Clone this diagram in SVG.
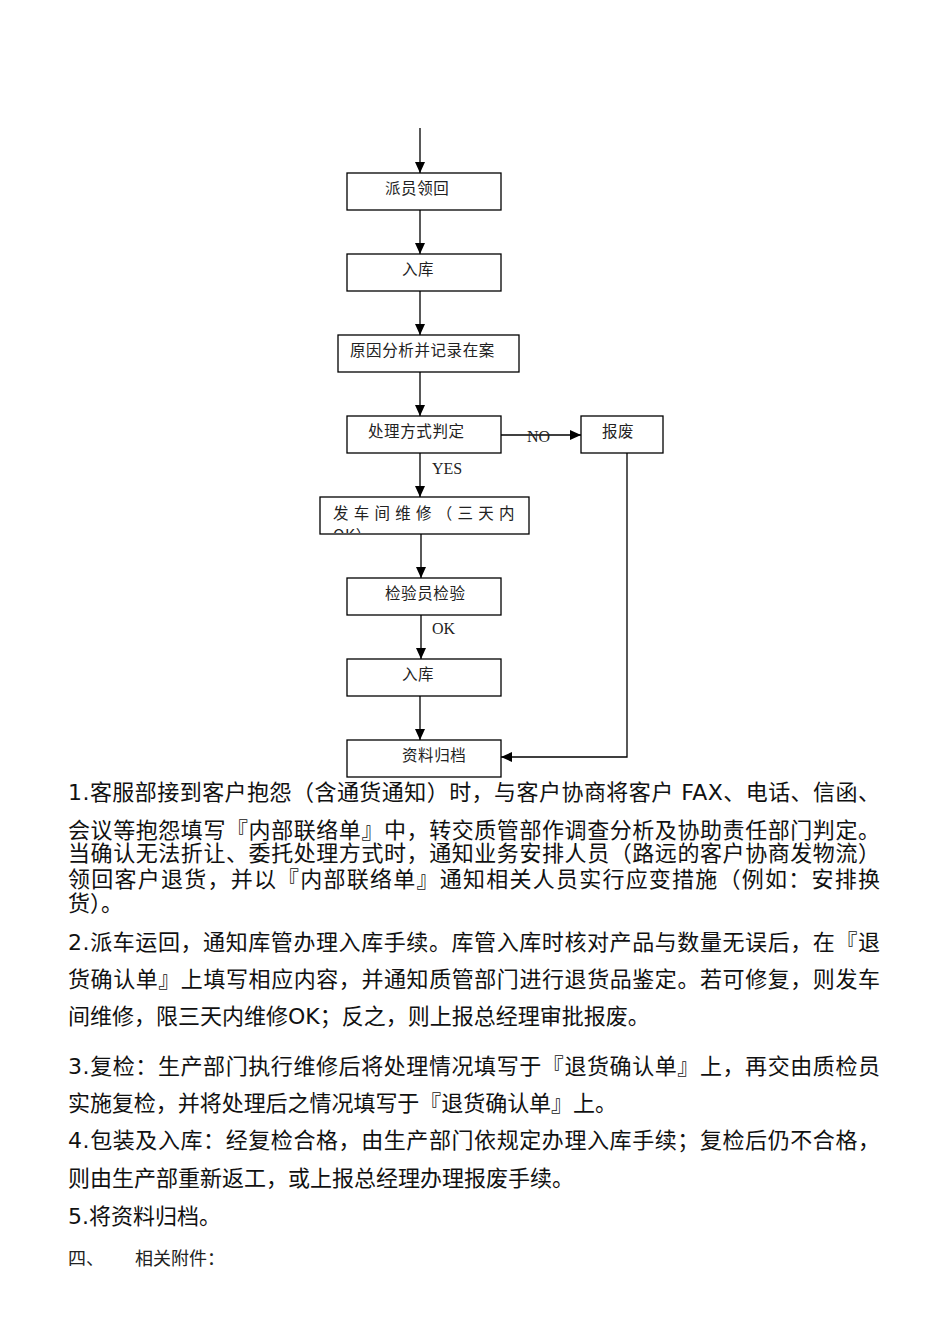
<svg xmlns="http://www.w3.org/2000/svg" width="950" height="1344" viewBox="0 0 950 1344">
<defs>
<style>
.box{fill:#fff;stroke:#000;stroke-width:1.3}
.bt{font-family:"Noto Sans CJK SC",sans-serif;font-size:15.5px;fill:#222;letter-spacing:0.6px}
.lbl{font-family:"Liberation Serif","Noto Sans CJK SC",serif;font-size:16px;fill:#222}
.ln{stroke:#000;stroke-width:1.3;fill:none}
.p{font-family:"DejaVu Sans","Noto Sans CJK SC",sans-serif;font-size:22px;fill:#111}
.h{font-family:"Noto Sans CJK SC",sans-serif;font-size:18px;fill:#222}
</style>
<marker id="ar" markerWidth="12" markerHeight="12" refX="11" refY="6" orient="auto" markerUnits="userSpaceOnUse">
<path d="M0,1 L11,6 L0,11 Z" fill="#000"/>
</marker>
<clipPath id="c5"><rect x="321" y="498" width="207" height="35"/></clipPath>
</defs>
<g id="connectors">
<line class="ln" x1="420" y1="128" x2="420" y2="173" marker-end="url(#ar)"/>
<line class="ln" x1="420" y1="210" x2="420" y2="254" marker-end="url(#ar)"/>
<line class="ln" x1="420" y1="291" x2="420" y2="335" marker-end="url(#ar)"/>
<line class="ln" x1="420" y1="372" x2="420" y2="416" marker-end="url(#ar)"/>
<line class="ln" x1="501" y1="435" x2="581" y2="435" marker-end="url(#ar)"/>
<line class="ln" x1="420" y1="453" x2="420" y2="497" marker-end="url(#ar)"/>
<line class="ln" x1="421" y1="534" x2="421" y2="578" marker-end="url(#ar)"/>
<line class="ln" x1="421" y1="615" x2="421" y2="659" marker-end="url(#ar)"/>
<line class="ln" x1="420" y1="696" x2="420" y2="740" marker-end="url(#ar)"/>
<polyline class="ln" points="627,453 627,757 501,757" marker-end="url(#ar)"/>
<text class="lbl" x="527" y="442">NO</text>
<text class="lbl" x="432" y="474">YES</text>
<text class="lbl" x="432" y="634">OK</text>
</g>
<g id="n1"><rect class="box" x="347" y="173" width="154" height="37"/><text class="bt" x="385" y="194">派员领回</text></g>
<g id="n2"><rect class="box" x="347" y="254" width="154" height="37"/><text class="bt" x="402" y="275">入库</text></g>
<g id="n3"><rect class="box" x="338" y="335" width="181" height="37"/><text class="bt" x="350" y="356">原因分析并记录在案</text></g>
<g id="n4"><rect class="box" x="347" y="416" width="154" height="37"/><text class="bt" x="368" y="437">处理方式判定</text></g>
<g id="n5"><rect class="box" x="581" y="416" width="82" height="37"/><text class="bt" x="602" y="437">报废</text></g>
<g id="n6"><rect class="box" x="320" y="497" width="209" height="37"/>
<g clip-path="url(#c5)"><text class="bt" x="333" y="519" textLength="182" lengthAdjust="spacing">发车间维修（三天内</text><text class="bt" x="333" y="541">OK）</text></g></g>
<g id="n7"><rect class="box" x="347" y="578" width="154" height="37"/><text class="bt" x="385" y="599">检验员检验</text></g>
<g id="n8"><rect class="box" x="347" y="659" width="154" height="37"/><text class="bt" x="402" y="680">入库</text></g>
<g id="n9"><rect class="box" x="347" y="740" width="154" height="37"/><text class="bt" x="402" y="761">资料归档</text></g>
<g id="body">
<text class="p" x="68" y="800" textLength="812" lengthAdjust="spacing">1.客服部接到客户抱怨（含通货通知）时，与客户协商将客户 FAX、电话、信函、</text>
<text class="p" x="68" y="838" textLength="812" lengthAdjust="spacing">会议等抱怨填写『内部联络单』中，转交质管部作调查分析及协助责任部门判定。</text>
<text class="p" x="68" y="861" textLength="812" lengthAdjust="spacing">当确认无法折让、委托处理方式时，通知业务安排人员（路远的客户协商发物流）</text>
<text class="p" x="68" y="887" textLength="812" lengthAdjust="spacing">领回客户退货，并以『内部联络单』通知相关人员实行应变措施（例如：安排换</text>
<text class="p" x="68" y="911">货）。</text>
<text class="p" x="68" y="950" textLength="812" lengthAdjust="spacing">2.派车运回，通知库管办理入库手续。库管入库时核对产品与数量无误后，在『退</text>
<text class="p" x="68" y="987" textLength="812" lengthAdjust="spacing">货确认单』上填写相应内容，并通知质管部门进行退货品鉴定。若可修复，则发车</text>
<text class="p" x="68" y="1024">间维修，限三天内维修OK；反之，则上报总经理审批报废。</text>
<text class="p" x="68" y="1074" textLength="812" lengthAdjust="spacing">3.复检：生产部门执行维修后将处理情况填写于『退货确认单』上，再交由质检员</text>
<text class="p" x="68" y="1111" textLength="549" lengthAdjust="spacing">实施复检，并将处理后之情况填写于『退货确认单』上。</text>
<text class="p" x="68" y="1148" textLength="812" lengthAdjust="spacing">4.包装及入库：经复检合格，由生产部门依规定办理入库手续；复检后仍不合格，</text>
<text class="p" x="68" y="1186">则由生产部重新返工，或上报总经理办理报废手续。</text>
<text class="p" x="68" y="1224">5.将资料归档。</text>
<text class="h" x="68" y="1265">四、</text>
<text class="h" x="135" y="1265">相关附件：</text>
</g>
</svg>
